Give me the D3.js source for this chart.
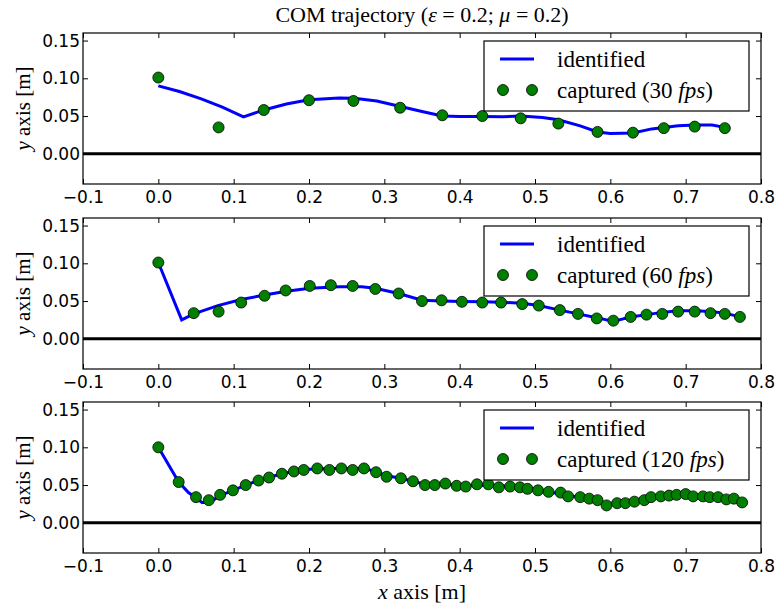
<!DOCTYPE html>
<html><head><meta charset="utf-8">
<script src="https://cdn.jsdelivr.net/npm/d3@7"></script>
<style>body{margin:0;background:#fff}</style>
</head><body>
<svg id="c" width="776" height="609"></svg>
<script>
const fpsLabels = ["30", "60", "120"];
const xTicks = [-0.1, 0.0, 0.1, 0.2, 0.3, 0.4, 0.5, 0.6, 0.7, 0.8];
const yTicks = [0.00, 0.05, 0.10, 0.15];

const line30 = [[0.000,0.090],[0.028,0.0825],[0.057,0.0728],[0.085,0.0618],[0.113,0.049],[0.140,0.058],[0.170,0.066],[0.200,0.0715],[0.240,0.074],[0.260,0.0735],[0.290,0.070],[0.320,0.063],[0.350,0.056],[0.377,0.050],[0.400,0.0495],[0.430,0.0495],[0.457,0.049],[0.481,0.050],[0.510,0.048],[0.531,0.045],[0.560,0.037],[0.583,0.029],[0.600,0.027],[0.630,0.0275],[0.655,0.033],[0.690,0.037],[0.712,0.038],[0.735,0.038],[0.752,0.035]];
const pts30 = [[0.000,0.101],[0.080,0.035],[0.140,0.058],[0.200,0.071],[0.259,0.070],[0.321,0.061],[0.377,0.051],[0.430,0.050],[0.481,0.047],[0.531,0.040],[0.583,0.029],[0.630,0.028],[0.671,0.034],[0.712,0.036],[0.752,0.034]];

const line60 = [[0.000,0.101],[0.031,0.025],[0.047,0.033],[0.079,0.044],[0.110,0.052],[0.141,0.058],[0.170,0.063],[0.201,0.067],[0.240,0.069],[0.270,0.069],[0.288,0.067],[0.319,0.060],[0.350,0.051],[0.376,0.050],[0.403,0.0495],[0.430,0.049],[0.455,0.0485],[0.483,0.047],[0.505,0.044],[0.533,0.038],[0.557,0.033],[0.582,0.028],[0.604,0.023],[0.627,0.029],[0.648,0.032],[0.669,0.035],[0.690,0.037],[0.712,0.037],[0.733,0.036],[0.752,0.034],[0.772,0.029]];
const pts60 = [[0.000,0.101],[0.047,0.034],[0.080,0.036],[0.110,0.048],[0.141,0.057],[0.169,0.064],[0.201,0.070],[0.229,0.071],[0.258,0.070],[0.288,0.066],[0.319,0.060],[0.350,0.050],[0.376,0.051],[0.403,0.049],[0.430,0.048],[0.455,0.048],[0.483,0.046],[0.505,0.044],[0.533,0.038],[0.557,0.033],[0.582,0.027],[0.604,0.024],[0.627,0.029],[0.648,0.032],[0.669,0.033],[0.690,0.036],[0.712,0.036],[0.733,0.034],[0.752,0.033],[0.772,0.029]];

const line120 = [[0.000,0.100],[0.027,0.054],[0.040,0.040],[0.050,0.033],[0.058,0.027],[0.068,0.027],[0.082,0.036],[0.099,0.043],[0.116,0.050],[0.133,0.056],[0.150,0.061],[0.164,0.065],[0.180,0.068],[0.200,0.071],[0.230,0.072],[0.260,0.072],[0.275,0.072],[0.290,0.067],[0.305,0.062],[0.322,0.059],[0.338,0.055],[0.354,0.051],[0.380,0.051],[0.410,0.049],[0.440,0.050],[0.467,0.048],[0.490,0.046],[0.518,0.041],[0.545,0.036],[0.572,0.032],[0.583,0.030],[0.595,0.024],[0.620,0.026],[0.645,0.030],[0.667,0.035],[0.690,0.037],[0.710,0.036],[0.732,0.035],[0.754,0.032],[0.775,0.027]];
const pts120 = [[0.000,0.100],[0.027,0.054],[0.050,0.034],[0.067,0.030],[0.082,0.037],[0.099,0.043],[0.116,0.050],[0.133,0.056],[0.147,0.060],[0.164,0.065],[0.180,0.068],[0.193,0.070],[0.211,0.072],[0.227,0.070],[0.243,0.072],[0.258,0.070],[0.273,0.072],[0.289,0.067],[0.303,0.061],[0.322,0.059],[0.338,0.055],[0.354,0.050],[0.367,0.050],[0.381,0.052],[0.396,0.049],[0.408,0.048],[0.423,0.051],[0.438,0.051],[0.452,0.047],[0.467,0.048],[0.480,0.047],[0.490,0.045],[0.504,0.043],[0.518,0.041],[0.534,0.040],[0.544,0.035],[0.560,0.034],[0.572,0.032],[0.583,0.030],[0.595,0.023],[0.609,0.026],[0.620,0.026],[0.632,0.028],[0.645,0.030],[0.654,0.034],[0.667,0.035],[0.678,0.036],[0.688,0.037],[0.700,0.038],[0.710,0.035],[0.723,0.035],[0.732,0.034],[0.743,0.034],[0.754,0.031],[0.764,0.032],[0.775,0.027]];

const panels = [
  {fps: fpsLabels[0], line: line30, pts: pts30},
  {fps: fpsLabels[1], line: line60, pts: pts60},
  {fps: fpsLabels[2], line: line120, pts: pts120}
];

const svg = d3.select("#c");
const L = 83, R = 761, H = 151;
const tops = [33, 218, 402];
const serif = "'Liberation Serif', 'Times New Roman', serif";
const sans = "'DejaVu Sans', sans-serif";
const x = d3.scaleLinear().domain([-0.1, 0.8]).range([L, R]);

panels.forEach((p, i) => {
  const top = tops[i];
  const y = d3.scaleLinear().domain([-0.04, 0.16]).range([top + H, top]);
  const g = svg.append("g");
  g.append("line").attr("x1", L).attr("x2", R).attr("y1", y(0)).attr("y2", y(0))
    .attr("stroke", "#000").attr("stroke-width", 3);
  g.append("path").datum(p.line)
    .attr("d", d3.line().x(d => x(d[0])).y(d => y(d[1])))
    .attr("fill", "none").attr("stroke", "#0000ff").attr("stroke-width", 3)
    .attr("stroke-linejoin", "miter");
  g.selectAll("circle.pt").data(p.pts).join("circle").attr("class", "pt")
    .attr("cx", d => x(d[0])).attr("cy", d => y(d[1])).attr("r", 5.5)
    .attr("fill", "#008000").attr("stroke", "#000").attr("stroke-width", 0.8);
  const ax = [
    {a: d3.axisBottom(x).tickValues(xTicks).tickSizeInner(-5).tickSizeOuter(0).tickPadding(7).tickFormat(d => d3.format(".1f")(d).replace("-", "\u2212")), t: `translate(0,${top + H})`},
    {a: d3.axisTop(x).tickValues(xTicks).tickSizeInner(-5).tickSizeOuter(0).tickFormat(""), t: `translate(0,${top})`},
    {a: d3.axisLeft(y).tickValues(yTicks).tickSizeInner(-5).tickSizeOuter(0).tickPadding(3).tickFormat(d3.format(".2f")), t: `translate(${L},0)`},
    {a: d3.axisRight(y).tickValues(yTicks).tickSizeInner(-5).tickSizeOuter(0).tickFormat(""), t: `translate(${R},0)`}
  ];
  ax.forEach(o => {
    const a = g.append("g").attr("transform", o.t).call(o.a);
    a.select(".domain").remove();
    a.selectAll(".tick line").attr("stroke", "#000").attr("stroke-width", 1);
    a.selectAll("text").attr("font-family", sans).attr("font-size", 17).attr("fill", "#000");
  });
  g.append("rect").attr("x", L).attr("y", top).attr("width", R - L).attr("height", H)
    .attr("fill", "none").attr("stroke", "#000").attr("stroke-width", 1.2);
  const yl = g.append("text").attr("transform", `translate(30,${top + H / 2}) rotate(-90)`)
    .attr("text-anchor", "middle").attr("font-family", serif).attr("font-size", 21);
  yl.append("tspan").attr("font-style", "italic").text("y");
  yl.append("tspan").text(" axis [m]");
  const lg = g.append("g");
  lg.append("rect").attr("x", 484).attr("y", top + 8).attr("width", 265).attr("height", 70)
    .attr("fill", "#fff").attr("stroke", "#000").attr("stroke-width", 1.2);
  lg.append("line").attr("x1", 500).attr("x2", 534).attr("y1", top + 26).attr("y2", top + 26)
    .attr("stroke", "#0000ff").attr("stroke-width", 3);
  lg.append("text").attr("x", 557).attr("y", top + 34).attr("font-family", serif).attr("font-size", 23).text("identified");
  [503, 532].forEach(cx => lg.append("circle").attr("cx", cx).attr("cy", top + 57).attr("r", 5.5)
    .attr("fill", "#008000").attr("stroke", "#000").attr("stroke-width", 0.8));
  const ct = lg.append("text").attr("x", 557).attr("y", top + 65).attr("font-family", serif).attr("font-size", 23);
  ct.append("tspan").text(`captured (${p.fps} `);
  ct.append("tspan").attr("font-style", "italic").text("fps");
  ct.append("tspan").text(")");
});

const tt = svg.append("text").attr("x", 422).attr("y", 22).attr("text-anchor", "middle")
  .attr("font-family", serif).attr("font-size", 22);
tt.append("tspan").text("COM trajectory (");
tt.append("tspan").attr("font-style", "italic").text("ε");
tt.append("tspan").text(" = 0.2;  ");
tt.append("tspan").attr("font-style", "italic").text("μ");
tt.append("tspan").text(" = 0.2)");

const xl = svg.append("text").attr("x", 422).attr("y", 599).attr("text-anchor", "middle")
  .attr("font-family", serif).attr("font-size", 22);
xl.append("tspan").attr("font-style", "italic").text("x");
xl.append("tspan").text(" axis [m]");
</script>
</body></html>
